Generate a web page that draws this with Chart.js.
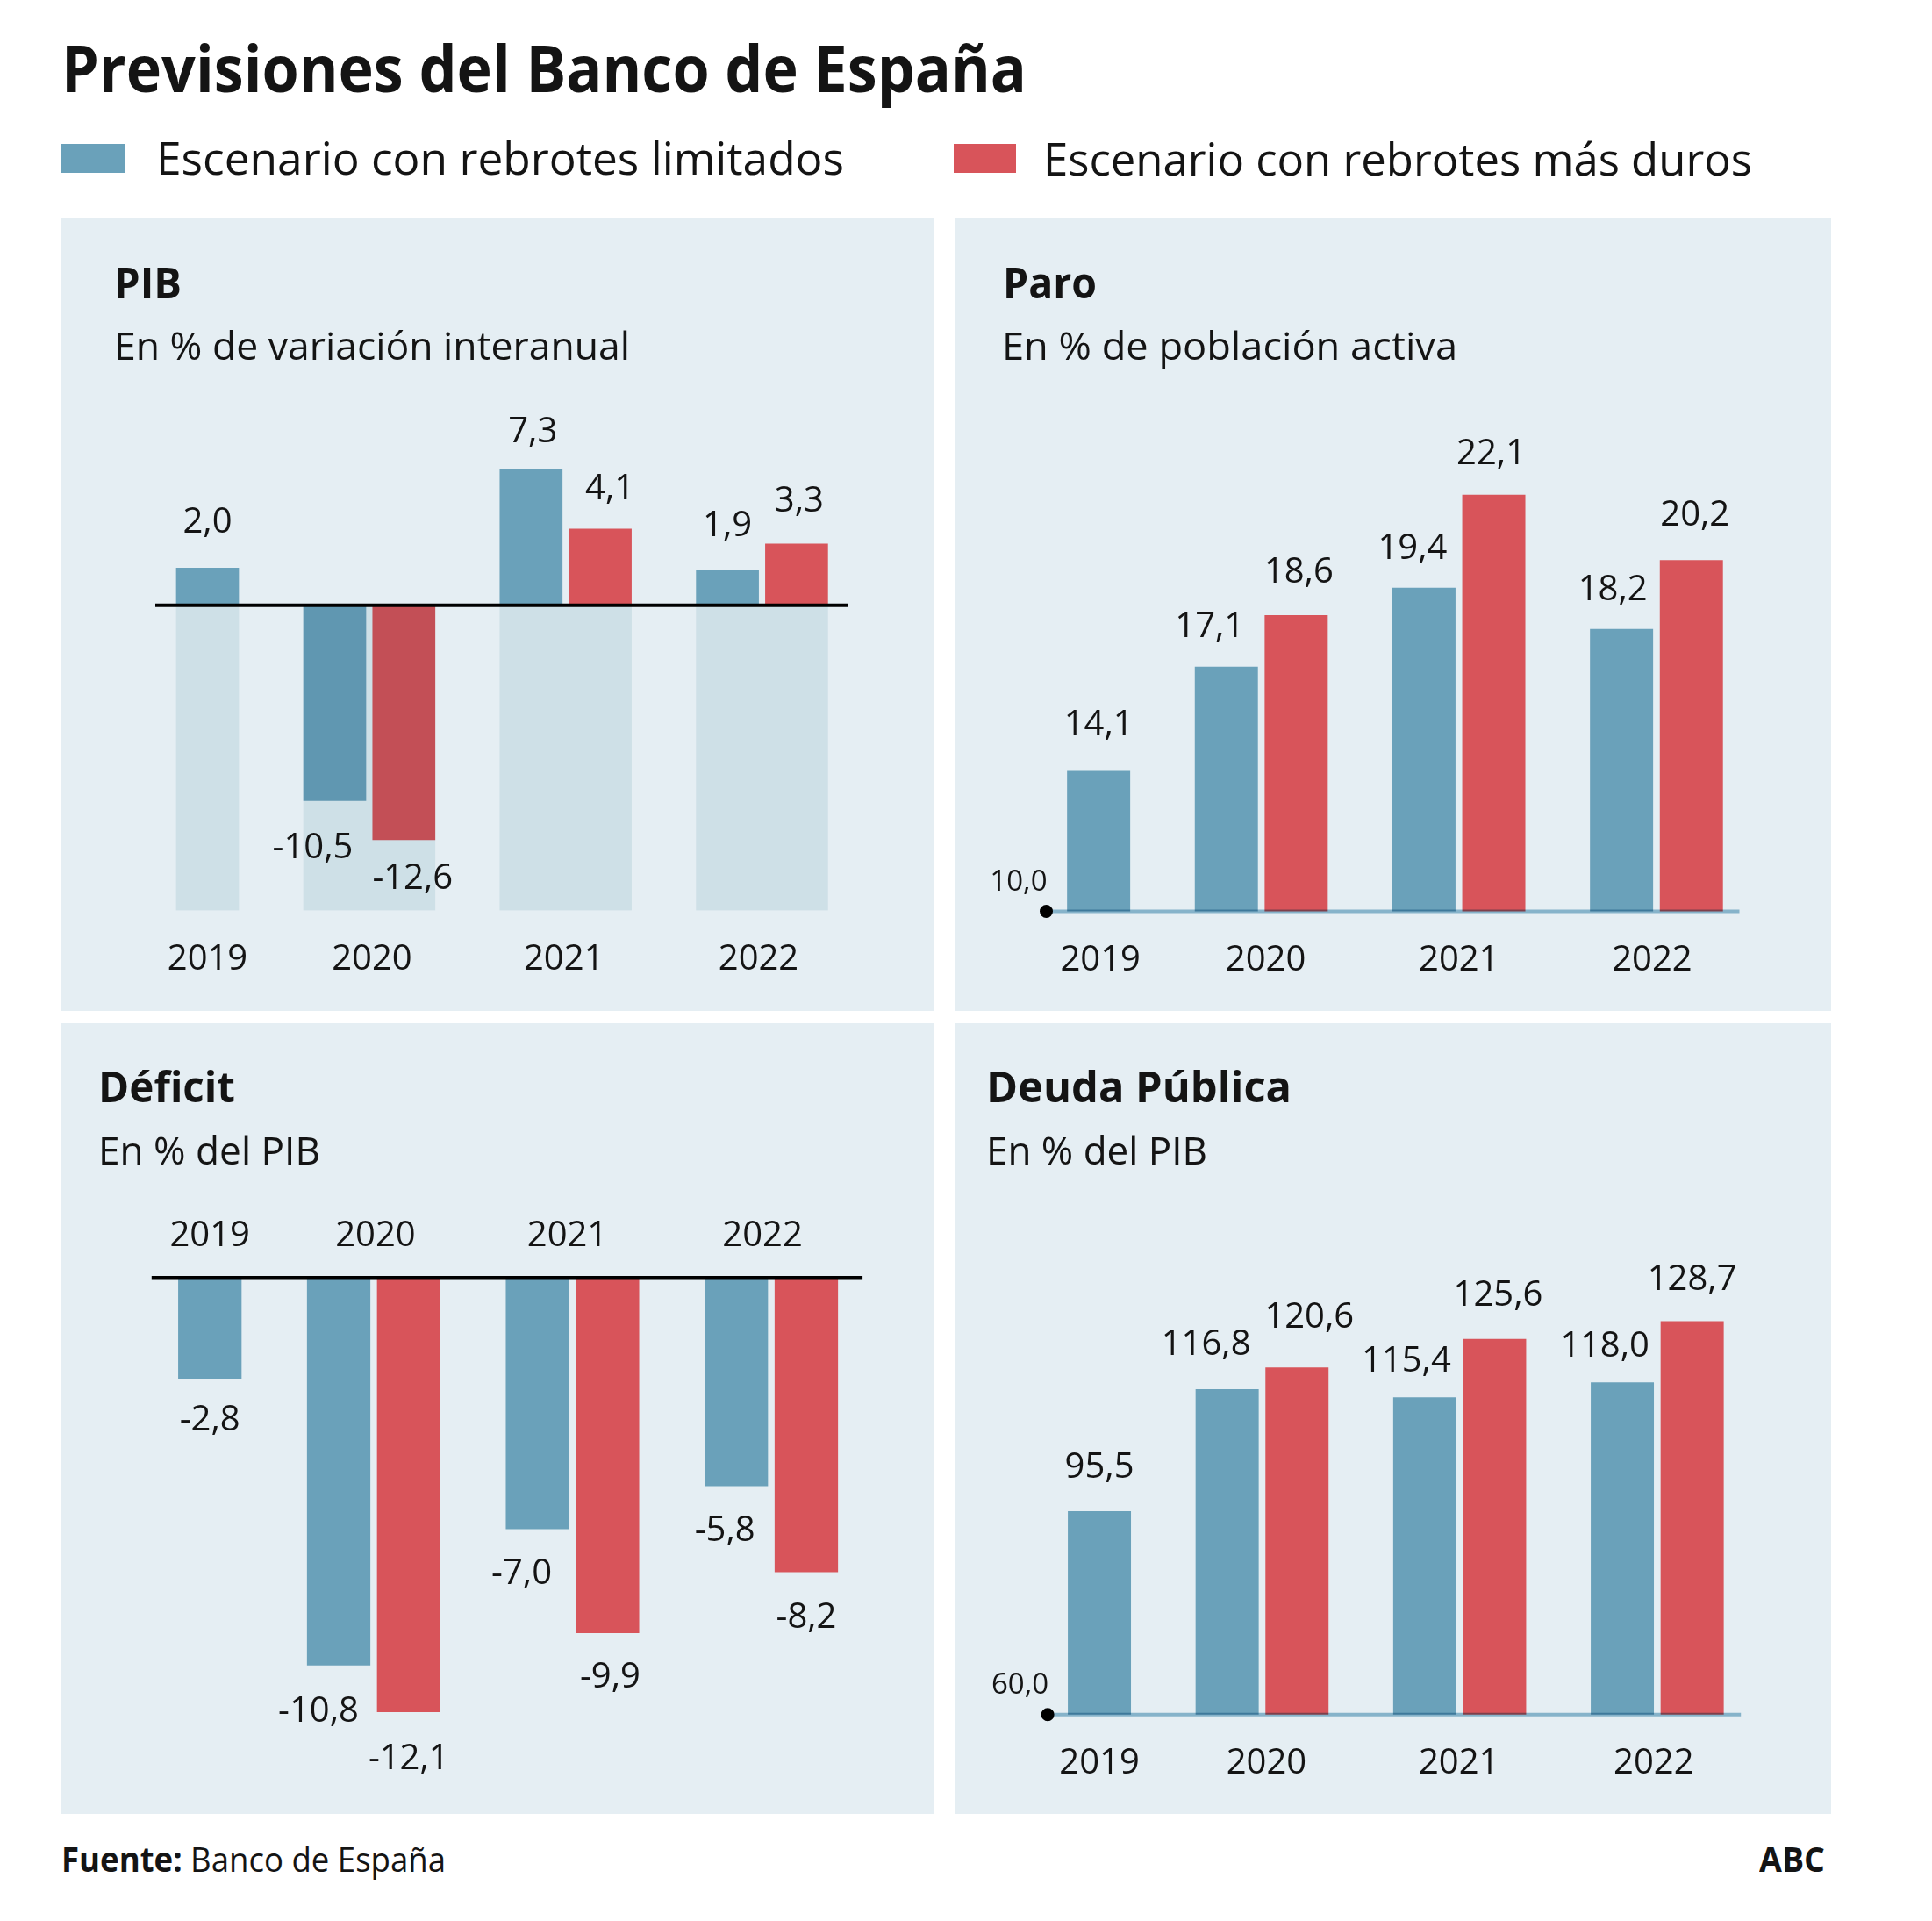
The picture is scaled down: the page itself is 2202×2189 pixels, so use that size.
<!DOCTYPE html>
<html lang="es"><head><meta charset="utf-8"><title>Previsiones del Banco de España</title>
<script src="https://cdn.jsdelivr.net/npm/chart.js@4/dist/chart.umd.min.js"></script>
<style>
html,body{margin:0;padding:0;background:#fff}
body{width:2202px;height:2189px;position:relative;overflow:hidden;font-family:"Open Sans","Noto Sans",sans-serif;color:#141414}
.t{position:absolute;white-space:nowrap;line-height:1;transform-origin:0 0;z-index:2}
.sw{position:absolute;z-index:2}
canvas{position:absolute;z-index:1}
</style></head><body>
<script>
// ---------------- DATA ----------------
const years = ['2019', '2020', '2021', '2022'];
const seriesNames = ['Escenario con rebrotes limitados', 'Escenario con rebrotes más duros'];

const pibLimitados = [2.0, -10.5, 7.3, 1.9];
const pibDuros = [null, -12.6, 4.1, 3.3];
const pibFondo = [-16.4, -16.4, -16.4, -16.4];

const paroLimitados = [14.1, 17.1, 19.4, 18.2];
const paroDuros = [null, 18.6, 22.1, 20.2];

const deficitLimitados = [-2.8, -10.8, -7.0, -5.8];
const deficitDuros = [null, -12.1, -9.9, -8.2];

const deudaLimitados = [95.5, 116.8, 115.4, 118.0];
const deudaDuros = [null, 120.6, 125.6, 128.7];

// ---------------- STYLE / LAYOUT ----------------
const BLUE = '#6aa1ba', RED = '#d8545a', PANEL = '#e5eef3', TXT = '#141414';
const LIGHT_MUL = '#e6f0f3';   // multiply tint of shaded range bars
const AXIS_MUL = '#95c0d4';    // multiply tint of base axis line
const FONT = '"Open Sans","Noto Sans",sans-serif';
const AXIS_H = 100;

// value-label nudges [dx, dy] per series per year
const NUDGE = {
  pib:     [[[0,-4],[-25,3],[2,5],[0,-2]],   [null,[10,-6],[11,2],[3,-1]]],
  paro:    [[[0,-4],[-19,2],[-13,3],[-10,3]], [null,[3,-1],[-3,1],[4,-4]]],
  deficit: [[[0,-3],[-23,2],[-18,0],[-13,0]], [null,[0,3],[3,0],[0,1]]],
  deuda:   [[[0,-2],[-24,-3],[-21,7],[-20,6]], [null,[14,-10],[4,-2],[0,0]]]
};
// year-label nudges (dx) per year
const TICK_NUDGE = {
  pib: [0, 3, -2, -4],
  paro: [2, 5, 0, -5],
  deficit: [0, 2, -6, -10],
  deuda: [0, 5, -1, -4]
};

const panels = [
  { key:'pib', title:'PIB', subtitle:'En % de variación interanual',
    lim:pibLimitados, dur:pibDuros, fondo:pibFondo,
    rect:{x:69,y:248,w:996,h:904}, area:{left:177,right:966},
    yMin:-16.4, yMax:10, anchor:{v:0,y:689.7}, pxU:21.2,
    geom:{bar:71,gapIn:7.8,gapOut:74,padL:24}, axisPos:'bottom', tickPad:36.2, base:'zero', zeroW:4,
    tt:{x:130,base:341,w:77}, st:{x:130,base:410,w:588} },
  { key:'paro', title:'Paro', subtitle:'En % de población activa',
    lim:paroLimitados, dur:paroDuros,
    rect:{x:1089,y:248,w:998,h:904}, area:{left:1192.5,right:1982.5},
    yMin:10, yMax:25, anchor:{v:10,y:1038.5}, pxU:39.2,
    geom:{bar:71.3,gapIn:8.3,gapOut:74.3,padL:24}, axisPos:'bottom', tickPad:36.5, base:'axis',
    tt:{x:1143,base:341,w:107}, st:{x:1142,base:410,w:519} },
  { key:'deficit', title:'Déficit', subtitle:'En % del PIB',
    lim:deficitLimitados, dur:deficitDuros,
    rect:{x:69,y:1166,w:996,h:901}, area:{left:172.8,right:983.1},
    yMin:-14, yMax:0, anchor:{v:0,y:1456.3}, pxU:40.85,
    geom:{bar:71.6,gapIn:8.2,gapOut:75.2,padL:30.6}, axisPos:'top', tickPad:27.3, base:'zero', zeroW:4.5,
    tt:{x:112,base:1257,w:156}, st:{x:112,base:1327,w:253} },
  { key:'deuda', title:'Deuda Pública', subtitle:'En % del PIB',
    lim:deudaLimitados, dur:deudaDuros,
    rect:{x:1089,y:1166,w:998,h:901}, area:{left:1194.1,right:1984.2},
    yMin:60, yMax:140, anchor:{v:60,y:1953.7}, pxU:6.52,
    geom:{bar:71.3,gapIn:8.3,gapOut:74.3,padL:23.3}, axisPos:'bottom', tickPad:36.3, base:'axis',
    tt:{x:1124,base:1257,w:348}, st:{x:1124,base:1327,w:252} }
];

// ---------------- HELPERS ----------------
function fmt(v){ return (v < 0 ? '-' : '') + Math.abs(v).toFixed(1).replace('.', ','); }

function layoutX(series, g){
  let cur = g.padL;
  const centers = series.map(() => []);
  const groups = [];
  years.forEach((y, i) => {
    const start = cur; let n = 0;
    series.forEach((arr, j) => {
      if (arr[i] === null || arr[i] === undefined) { centers[j].push(null); return; }
      if (n > 0) cur += g.gapIn;
      centers[j].push(cur + g.bar / 2);
      cur += g.bar; n++;
    });
    groups.push({ center: (start + cur) / 2, width: cur - start });
    cur += g.gapOut;
  });
  return { centers, groups };
}

function placeText(o){
  const el = document.createElement('div');
  el.className = 't';
  if (o.html) el.innerHTML = o.html; else el.textContent = o.s;
  el.style.fontSize = o.size + 'px';
  el.style.fontWeight = o.bold ? '700' : '400';
  el.style.left = o.x + 'px';
  el.style.top = (o.base - 0.888 * o.size) + 'px';
  document.body.appendChild(el);
  const w = el.getBoundingClientRect().width;
  if (o.w && w > 0) el.style.transform = 'scaleX(' + (o.w / w).toFixed(4) + ')';
}

function build(c){
  const cv = document.createElement('canvas');
  cv.width = c.rect.w; cv.height = c.rect.h;
  Object.assign(cv.style, { left: c.rect.x + 'px', top: c.rect.y + 'px', width: c.rect.w + 'px', height: c.rect.h + 'px' });
  document.body.appendChild(cv);

  const areaW = c.area.right - c.area.left;
  const aTop = c.anchor.y - (c.yMax - c.anchor.v) * c.pxU;
  const aBot = c.anchor.y + (c.anchor.v - c.yMin) * c.pxU;
  const pad = { left: c.area.left - c.rect.x, right: c.rect.x + c.rect.w - c.area.right };
  if (c.axisPos === 'top') { pad.top = aTop - AXIS_H - c.rect.y; pad.bottom = c.rect.y + c.rect.h - aBot; }
  else { pad.top = aTop - c.rect.y; pad.bottom = c.rect.y + c.rect.h - aBot - AXIS_H; }

  const pos = layoutX([c.lim, c.dur], c.geom);
  const tickDx = TICK_NUDGE[c.key];
  const datasets = [];
  [c.lim, c.dur].forEach((arr, j) => {
    datasets.push({
      label: seriesNames[j],
      data: arr.map((v, i) => v === null ? null : { x: pos.centers[j][i], y: v, yi: i }).filter(p => p),
      backgroundColor: j ? RED : BLUE,
      barThickness: c.geom.bar,
      order: 1,
      valueSeries: j
    });
  });
  if (c.fondo) {
    pos.groups.forEach((g, i) => {
      datasets.push({ label: 'rango ' + years[i], data: [{ x: g.center, y: c.fondo[i] }],
        backgroundColor: LIGHT_MUL, barThickness: g.width, order: -1, blend: true });
    });
  }
  const nudge = NUDGE[c.key];

  const plugin = {
    id: 'decor_' + c.key,
    beforeDraw(ch){
      const ctx = ch.ctx; ctx.save(); ctx.fillStyle = PANEL; ctx.fillRect(0, 0, ch.width, ch.height); ctx.restore();
    },
    beforeDatasetDraw(ch, a){
      if (ch.data.datasets[a.index].blend) { ch.ctx.save(); ch.ctx.globalCompositeOperation = 'multiply'; }
    },
    afterDatasetDraw(ch, a){
      if (ch.data.datasets[a.index].blend) ch.ctx.restore();
    },
    afterDatasetsDraw(ch){
      const ctx = ch.ctx, A = ch.chartArea, ys = ch.scales.y;
      ctx.save();
      if (c.base === 'zero') {
        const y = ys.getPixelForValue(0);
        ctx.strokeStyle = '#000'; ctx.lineWidth = c.zeroW;
        ctx.beginPath(); ctx.moveTo(A.left, y); ctx.lineTo(A.right, y); ctx.stroke();
      } else {
        const y = ys.getPixelForValue(c.yMin);
        ctx.globalCompositeOperation = 'multiply';
        ctx.strokeStyle = AXIS_MUL; ctx.lineWidth = 4;
        ctx.beginPath(); ctx.moveTo(A.left, y); ctx.lineTo(A.right, y); ctx.stroke();
        ctx.globalCompositeOperation = 'source-over';
        ctx.fillStyle = '#000';
        ctx.beginPath(); ctx.arc(A.left, y, 7.5, 0, Math.PI * 2); ctx.fill();
        ctx.fillStyle = TXT; ctx.font = '33px ' + FONT; ctx.textAlign = 'right'; ctx.textBaseline = 'alphabetic';
        ctx.fillText(fmt(c.yMin), A.left + 1, y - 24);
      }
      ctx.font = '40px ' + FONT; ctx.textAlign = 'center'; ctx.textBaseline = 'alphabetic'; ctx.fillStyle = TXT;
      ch.data.datasets.forEach((d, di) => {
        if (d.valueSeries === undefined) return;
        const meta = ch.getDatasetMeta(di);
        meta.data.forEach((el, k) => {
          const p = d.data[k];
          const nd = (nudge[d.valueSeries] && nudge[d.valueSeries][p.yi]) || [0, 0];
          const yy = p.y >= 0 ? el.y - 36 + nd[1] : el.y + 34 + 28.6 + nd[1];
          ctx.fillText(fmt(p.y), el.x + nd[0], yy);
        });
      });
      ctx.restore();
    }
  };

  new Chart(cv, {
    type: 'bar',
    data: { datasets },
    options: {
      responsive: false, maintainAspectRatio: false, animation: false, devicePixelRatio: 1, events: [],
      layout: { padding: pad },
      datasets: { bar: { grouped: false, borderWidth: 0 } },
      plugins: { legend: { display: false }, tooltip: { enabled: false } },
      scales: {
        x: {
          type: 'linear', min: 0, max: areaW, offset: false, position: c.axisPos,
          grid: { display: false, drawTicks: false, tickLength: 0 },
          border: { display: false },
          ticks: { padding: c.tickPad, color: TXT, font: { family: FONT, size: 40, lineHeight: 1 },
                   maxRotation: 0, minRotation: 0, autoSkip: false, callback: (v, i) => years[i] },
          afterBuildTicks: s => { s.ticks = pos.groups.map((g, i) => ({ value: g.center + tickDx[i] })); },
          afterFit: s => { s.height = AXIS_H; }
        },
        y: { type: 'linear', display: false, min: c.yMin, max: c.yMax }
      }
    },
    plugins: [plugin]
  });
}

// ---------------- RENDER ----------------
function sw(x, y, w, h, col){
  const d = document.createElement('div'); d.className = 'sw';
  Object.assign(d.style, { left: x + 'px', top: y + 'px', width: w + 'px', height: h + 'px', background: col });
  document.body.appendChild(d);
}

panels.forEach(build);
sw(70, 164, 72, 33, BLUE);
sw(1087, 164, 71, 33, RED);

const texts = [
  { s: 'Previsiones del Banco de España', x: 70, base: 106, size: 74, bold: 1, w: 1100 },
  { s: seriesNames[0], x: 178, base: 199.5, size: 52, w: 784 },
  { s: seriesNames[1], x: 1189, base: 200, size: 52, w: 808 },
  { html: '<b>Fuente:</b> Banco de España', x: 70, base: 2132.5, size: 39, w: 438 },
  { s: 'ABC', x: 2005, base: 2132.5, size: 39, bold: 1, w: 75 }
];
panels.forEach(p => {
  texts.push({ s: p.title, x: p.tt.x, base: p.tt.base, size: 49, bold: 1, w: p.tt.w });
  texts.push({ s: p.subtitle, x: p.st.x, base: p.st.base, size: 44, w: p.st.w });
});
texts.forEach(placeText);
</script>
</body></html>
